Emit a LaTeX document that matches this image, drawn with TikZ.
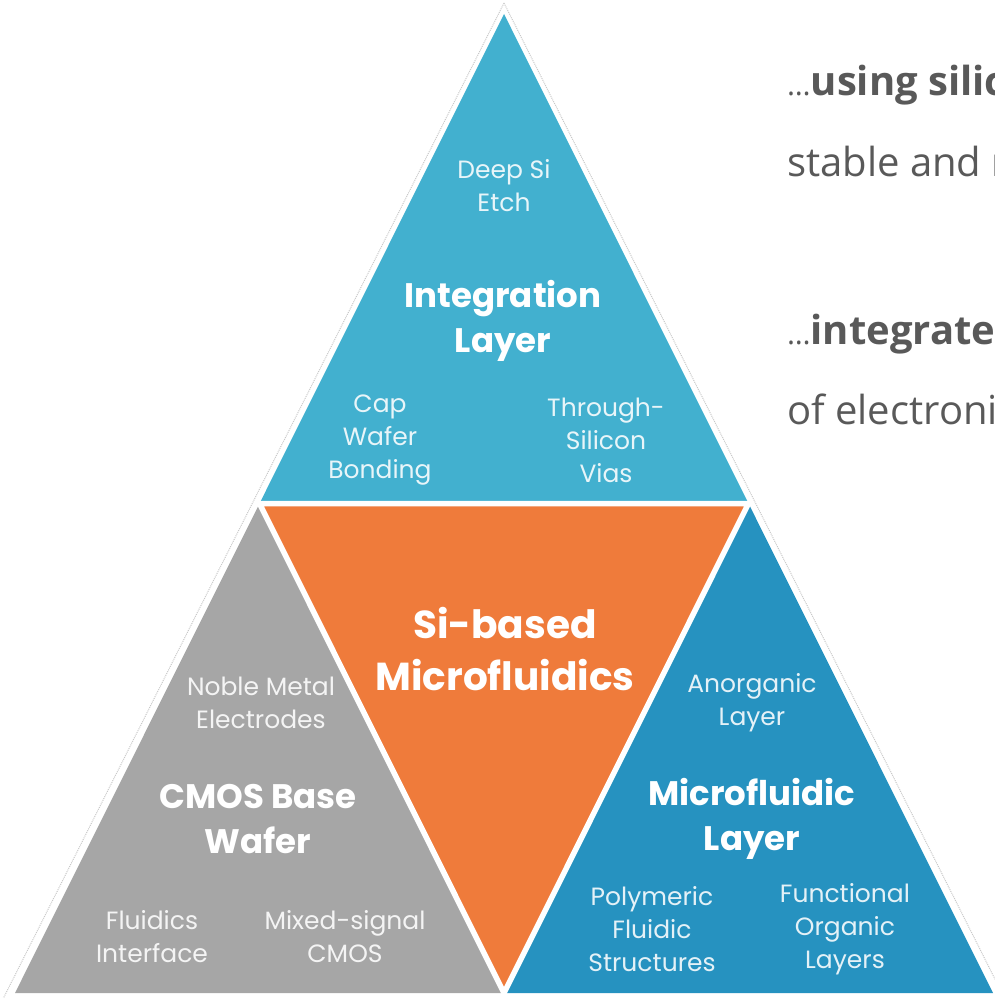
\documentclass[tikz,border=0pt]{standalone}
\usepackage{fontspec}
\setmainfont{Poppins}
\newfontfamily\sidefont{Open Sans}
\definecolor{topblue}{RGB}{66,176,207}
\definecolor{midorange}{RGB}{239,123,59}
\definecolor{basegray}{RGB}{166,166,166}
\definecolor{rightblue}{RGB}{38,146,192}
\definecolor{sidetext}{RGB}{89,89,89}
\definecolor{outline}{RGB}{200,200,200}
\tikzset{
  facet/.style={draw=white, line width=5.5pt, line join=miter},
  small/.style={text=white, text opacity=0.88, align=center, font=\fontsize{25}{33}\selectfont, inner sep=0pt},
  head/.style={text=white, align=center, font=\bfseries\fontsize{34}{45}\selectfont, inner sep=0pt},
  side/.style={text=sidetext, anchor=base west, inner sep=0pt, font=\sidefont\fontsize{40}{48}\selectfont},
}
\begin{document}
\begin{tikzpicture}[x=1pt,y=-1pt]
\useasboundingbox (0,0) rectangle (995,998);
% dotted outline
\draw[outline, densely dotted, line width=1pt] (504,3) -- (3,999) (504,3) -- (1005,999);
% coordinates
\coordinate (A) at (504,14);
\coordinate (L) at (15,993);
\coordinate (R) at (993,993);
\coordinate (ML) at (259.5,503.5);
\coordinate (MR) at (748.5,503.5);
\coordinate (MB) at (504,993);
% facets
\fill[topblue] (A) -- (ML) -- (MR) -- cycle;
\fill[basegray] (ML) -- (L) -- (MB) -- cycle;
\fill[rightblue] (MR) -- (MB) -- (R) -- cycle;
\fill[midorange] (ML) -- (MR) -- (MB) -- cycle;
\draw[facet] (ML) -- (MR) -- (MB) -- cycle;
% top texts
\node[small] (deep) at (504,186) {Deep Si\\Etch};
\node[head] (integ) at (503,321) {Integration\\Layer};
\node[small] (cap) at (380,440) {Cap\\Wafer\\Bonding};
\node[small] (tsv) at (606,440) {Through-\\Silicon\\Vias};
% center
\node[head, font=\bfseries\fontsize{39}{52}\selectfont] (sib) at (505,649) {Si-based\\Microfluidics};
% gray
\node[small] (noble) at (261,703) {Noble Metal\\Electrodes};
\node[head] (cmos) at (258,819) {CMOS Base\\Wafer};
\node[small] (fluid) at (152,937) {Fluidics\\Interface};
\node[small] (mixed) at (345,937) {Mixed-signal\\CMOS};
% blue
\node[small] (anorg) at (752,703) {Anorganic\\Layer};
\node[head] (mfl) at (752,819) {Microfluidic\\Layer};
\node[small] (poly) at (652,929) {Polymeric\\Fluidic\\Structures};
\node[small] (func) at (845,929) {Functional\\Organic\\Layers};
% side texts
\begin{scope}
\clip (0,0) rectangle (995,998);
\node[side] (s1) at (787,95) {{\fontsize{30}{30}\selectfont …}\textbf{using silic}};
\node[side] (s2) at (787,176) {stable and r};
\node[side] (s3) at (787,344) {{\fontsize{30}{30}\selectfont …}\textbf{integrated}};
\node[side] (s4) at (787,424) {of electronic};
\end{scope}
\end{tikzpicture}
\end{document}
